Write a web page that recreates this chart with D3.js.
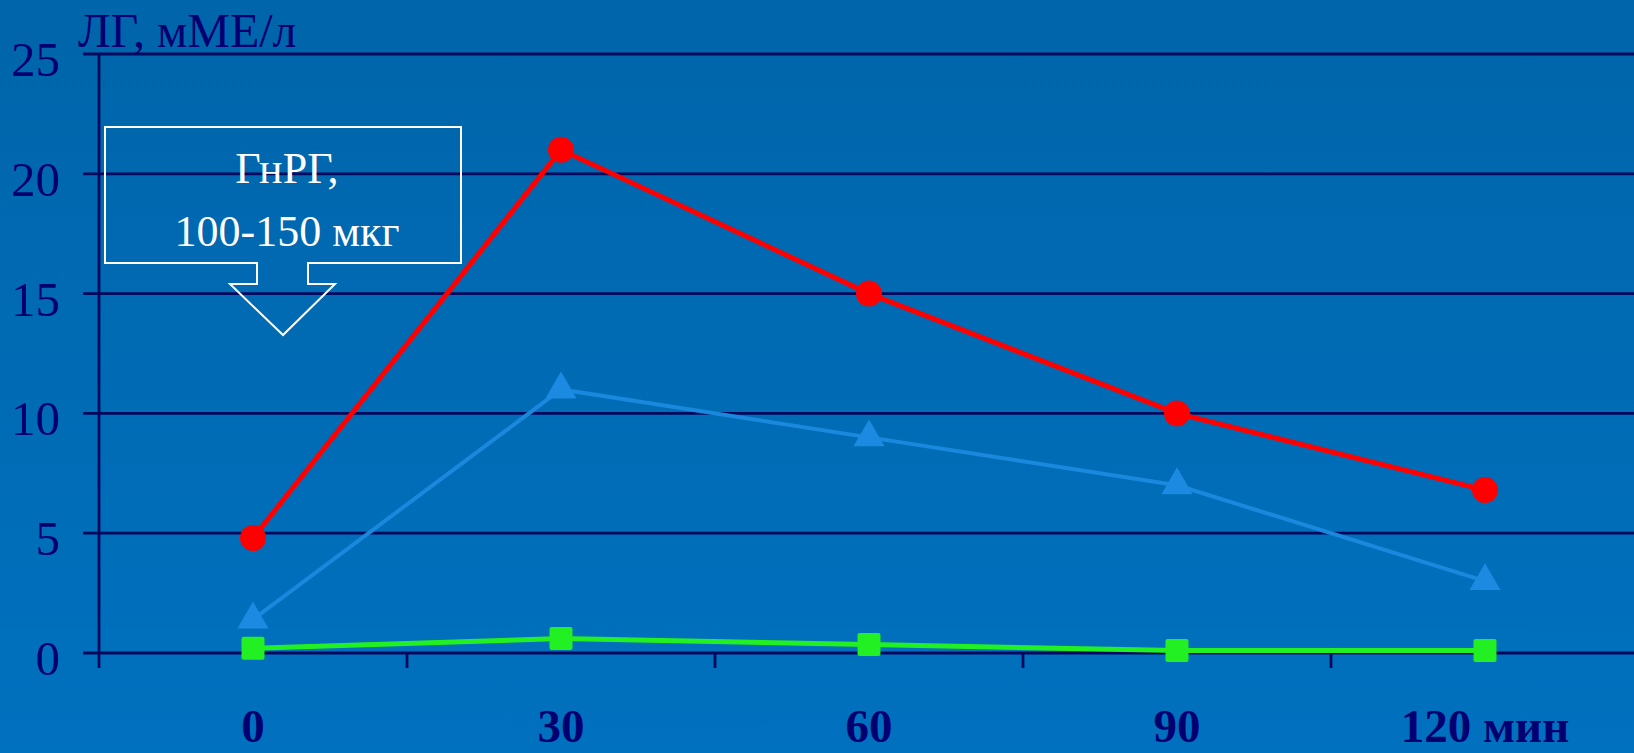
<!DOCTYPE html>
<html>
<head>
<meta charset="utf-8">
<script src="https://cdn.jsdelivr.net/npm/d3@7"></script>
<style>
html,body{margin:0;padding:0;overflow:hidden;background:#0068B2;}
svg{display:block;}
</style>
</head>
<body>
<svg id="chart" width="1634" height="753"></svg>
<script>
const categories = ["0", "30", "60", "90", "120 мин"];
const seriesRed = [4.8, 21.0, 15.0, 10.0, 6.8];
const seriesBlue = [1.4, 11.0, 9.0, 7.0, 3.0];
const seriesGreen = [0.2, 0.6, 0.35, 0.1, 0.1];
const yTicks = [0, 5, 10, 15, 20, 25];
const yTitle = "ЛГ, мМЕ/л";
const calloutLines = ["ГнРГ,", "100-150 мкг"];

const W = 1634, H = 753;
const svg = d3.select("#chart");
const navy = "#000070";
const grid = "#00085E";
const font = "'Liberation Serif','Times New Roman',serif";

const defs = svg.append("defs");
const bg = defs.append("linearGradient").attr("id","bg").attr("x1",0).attr("y1",0).attr("x2",0).attr("y2",1);
bg.append("stop").attr("offset","0%").attr("stop-color","#0065AA");
bg.append("stop").attr("offset","100%").attr("stop-color","#0071BF");
svg.append("rect").attr("width",W).attr("height",H).attr("fill","url(#bg)");

const x = d3.scaleBand().domain(categories).range([99, 1639]).padding(0);
const y = d3.scaleLinear().domain([0, 25]).range([653, 54]);
const cx = c => x(c) + x.bandwidth() / 2;

// gridlines
svg.append("g").selectAll("line").data(yTicks).join("line")
  .attr("x1", 83).attr("x2", W + 10)
  .attr("y1", d => y(d)).attr("y2", d => y(d))
  .attr("stroke", grid).attr("stroke-width", 2.8);

// y axis line
svg.append("line").attr("x1", 99).attr("x2", 99).attr("y1", y(25)).attr("y2", 668)
  .attr("stroke", grid).attr("stroke-width", 2.8);

// x axis ticks at band boundaries
const bounds = categories.slice(1).map(c => x(c));
svg.append("g").selectAll("line").data(bounds).join("line")
  .attr("x1", d => d).attr("x2", d => d).attr("y1", y(0)).attr("y2", 668)
  .attr("stroke", grid).attr("stroke-width", 2.8);

// y tick labels
svg.append("g").selectAll("text").data(yTicks).join("text")
  .attr("x", 60).attr("y", d => y(d) + 22)
  .attr("text-anchor", "end")
  .attr("font-family", font).attr("font-size", 49).attr("fill", navy)
  .text(d => d);

// y title
svg.append("text").attr("x", 78).attr("y", 47)
  .attr("font-family", font).attr("font-size", 48).attr("fill", navy)
  .text(yTitle);

// x labels
svg.append("g").selectAll("text").data(categories).join("text")
  .attr("x", d => cx(d)).attr("y", 742)
  .attr("text-anchor", "middle")
  .attr("font-family", font).attr("font-size", 47).attr("font-weight", "bold").attr("fill", navy)
  .text(d => d);

// callout
const callout = d3.path();
callout.moveTo(105,127); callout.lineTo(461,127); callout.lineTo(461,263);
callout.lineTo(308,263); callout.lineTo(308,284); callout.lineTo(335,284);
callout.lineTo(283,335); callout.lineTo(230,284); callout.lineTo(257,284);
callout.lineTo(257,263); callout.lineTo(105,263); callout.closePath();
svg.append("path").attr("d", callout.toString()).attr("fill","none")
  .attr("stroke","#ffffff").attr("stroke-width",2);
svg.append("g").selectAll("text").data(calloutLines).join("text")
  .attr("x", 287).attr("y", (d,i) => 183 + i * 63)
  .attr("text-anchor","middle")
  .attr("font-family", font).attr("font-size", 44).attr("fill","#ffffff")
  .text(d => d);

const line = d3.line().x((d,i) => cx(categories[i])).y(d => y(d));

// blue series
svg.append("path").attr("d", line(seriesBlue)).attr("fill","none")
  .attr("stroke","#1A88DC").attr("stroke-width",4);
const tri = d3.symbol().type(d3.symbolTriangle).size(420);
svg.append("g").selectAll("path").data(seriesBlue).join("path")
  .attr("d", tri)
  .attr("transform", (d,i) => `translate(${cx(categories[i])},${y(d)})`)
  .attr("fill","#1C8AE0");

// green series
svg.append("path").attr("d", line(seriesGreen)).attr("fill","none")
  .attr("stroke","#22F022").attr("stroke-width",5);
svg.append("g").selectAll("rect").data(seriesGreen).join("rect")
  .attr("x", (d,i) => cx(categories[i]) - 11.5).attr("y", d => y(d) - 11.5)
  .attr("width", 23).attr("height", 23).attr("rx", 2)
  .attr("fill","#22F022");

// red series
svg.append("path").attr("d", line(seriesRed)).attr("fill","none")
  .attr("stroke","#FF0000").attr("stroke-width",5);
svg.append("g").selectAll("circle").data(seriesRed).join("circle")
  .attr("cx", (d,i) => cx(categories[i])).attr("cy", d => y(d))
  .attr("r", 13).attr("fill","#FF0000");
</script>
</body>
</html>
